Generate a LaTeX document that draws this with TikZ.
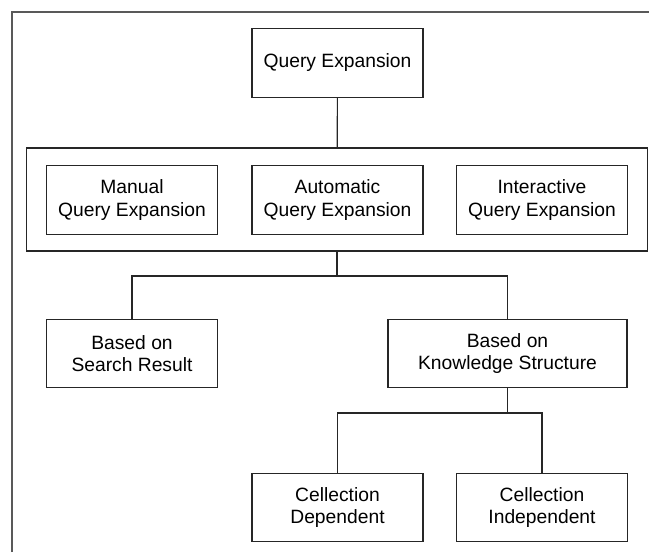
\documentclass[tikz,border=0pt]{standalone}
\usepackage{fontspec}
\setmainfont{Liberation Sans}
\begin{document}
\begin{tikzpicture}[x=0.025cm, y=-0.025cm, thick, draw=black!85,
		box/.style = {draw=black!85, line width=0.8pt, align=center, inner sep=0pt,
			minimum width=4.275cm, minimum height=1.71cm, font=\fontsize{13.7}{15.7}\selectfont},
		group/.style = {draw=black!85, line width=0.8pt, minimum width=15.5cm, minimum height=2.575cm}]
		
		\useasboundingbox (0,0) rectangle (649,552);
		\draw[black!65, line width=1pt] (12,552) -- (12,12) -- (649,12);
		
		\node[box] (qe) at (337.5,63) {Query Expansion};
		\node[group] (grp) at (337,199.5) {};
		\node[box] (manual) at (132,200) {Manual\\Query Expansion};
		\node[box] (auto) at (337.5,200) {Automatic\\Query Expansion};
		\node[box] (inter) at (542,200) {Interactive\\Query Expansion};
		
		\node[box] (search) at (132,353.5) {Based on\\Search Result};
		\node[box, minimum width=5.975cm] (know) at (507.5,353.5) {Based on\\Knowledge Structure};
		\node[box] (dep) at (337.5,507.5) {Cellection\\Dependent};
		\node[box] (indep) at (542,507.5) {Cellection\\Independent};
		
		\coordinate (j1) at (337,276);
		\coordinate (j2) at (507.5,413);
		
		\draw (qe) -- (grp);
		\draw (grp.south) -- (j1);
		\draw (j1) -| (search.north);
		\draw (j1) -| (know.north);
		\draw (know.south) -- (j2);
		\draw (j2) -| (dep.north);
		\draw (j2) -| (indep.north);
	\end{tikzpicture}
\end{document}
